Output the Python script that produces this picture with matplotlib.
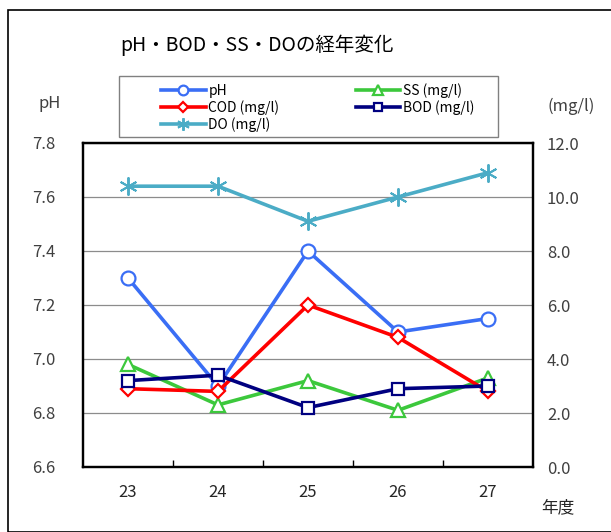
import matplotlib
matplotlib.use("Agg")
from matplotlib import pyplot as plt
from matplotlib.patches import Rectangle

plt.rcParams['font.family'] = ['Noto Sans CJK JP', 'DejaVu Sans']

years = [23, 24, 25, 26, 27]
ph = [7.30, 6.90, 7.40, 7.10, 7.15]
ss = [3.8, 2.3, 3.2, 2.1, 3.3]
cod = [2.9, 2.8, 6.0, 4.8, 2.8]
bod = [3.2, 3.4, 2.2, 2.9, 3.0]
do = [10.4, 10.4, 9.1, 10.0, 10.9]

ph_ticks = [6.6, 6.8, 7.0, 7.2, 7.4, 7.6, 7.8]
mg_ticks = [0, 2, 4, 6, 8, 10, 12]

W, H = 611, 532
fig = plt.figure(figsize=(W / 100, H / 100), dpi=100)

# outer chart border
fig.patches.append(Rectangle((8 / W, 0), 1.2, 1 - 10 / H, transform=fig.transFigure,
                             fill=False, edgecolor='black', linewidth=1.2))

ax = fig.add_axes([83 / W, 1 - 467 / H, 450 / W, 324 / H])
ax2 = ax.twinx()

ax.set_ylim(6.6, 7.8)
ax2.set_ylim(0, 12)
ax.set_xlim(22.5, 27.5)

ax.set_yticks(ph_ticks)
ax.set_yticklabels(['%.1f' % v for v in ph_ticks])
ax2.set_yticks(mg_ticks)
ax2.set_yticklabels(['%.1f' % v for v in mg_ticks])
ax.set_xticks(years)
ax.set_xticklabels([str(y) for y in years])
ax.set_xticks([23.5, 24.5, 25.5, 26.5], minor=True)

ax.grid(axis='y', color='#8c8c8c', linewidth=0.9)
ax.set_axisbelow(True)
ax.tick_params(axis='x', which='major', length=0, pad=12, labelsize=12, labelcolor='#262626')
ax.tick_params(axis='x', which='minor', length=5, direction='in', width=1)
ax.tick_params(axis='y', length=0, pad=20, labelsize=12, labelcolor='#404040')
ax2.tick_params(axis='y', length=0, pad=10, labelsize=12, labelcolor='#404040')
for a in (ax, ax2):
    for s in a.spines.values():
        s.set_linewidth(1.6)

lw = 2.6
l1, = ax.plot(years, ph, color='#3a6ef5', lw=lw, marker='o', ms=10,
              mfc='white', mec='#3a6ef5', mew=1.6, label='pH')
l2, = ax2.plot(years, ss, color='#3cc83c', lw=lw, marker='^', ms=10,
               mfc='white', mec='#3cc83c', mew=1.6, label='SS (mg/l)')
l3, = ax2.plot(years, cod, color='#ff0000', lw=lw, marker='D', ms=7,
               mfc='white', mec='#ff0000', mew=1.6, label='COD (mg/l)')
l4, = ax2.plot(years, bod, color='#000080', lw=lw, marker='s', ms=8,
               mfc='white', mec='#000080', mew=1.6, label='BOD (mg/l)')
l5, = ax2.plot(years, do, color='#4bacc6', lw=lw, marker=(6, 2, 0), ms=13,
               mec='#4bacc6', mew=1.4, label='DO (mg/l)')

# legend frame drawn by hand
fig.patches.append(Rectangle((119 / W, 1 - 137 / H), 379 / W, 61 / H,
                             transform=fig.transFigure, fill=False,
                             edgecolor='#808080', linewidth=1))
fig.legend([l1, l3, l5, l2, l4],
           ['pH', 'COD (mg/l)', 'DO (mg/l)', 'SS (mg/l)', 'BOD (mg/l)'],
           ncol=2, loc='upper left', bbox_to_anchor=(150 / W, 1 - 72 / H),
           frameon=False, fontsize=10, handlelength=3.2, handletextpad=0.2,
           columnspacing=5.5, labelspacing=0.15, borderpad=0.3, markerscale=0.7)

fig.text(257 / W, 1 - 45 / H, 'pH・BOD・SS・DOの経年変化', ha='center', va='center',
         fontsize=14)
fig.text(50 / W, 1 - 104 / H, 'pH', ha='center', va='center', fontsize=12, color='#404040')
fig.text(571 / W, 1 - 106 / H, '(mg/l)', ha='center', va='center', fontsize=12, color='#404040')
fig.text(558 / W, 1 - 508 / H, '年度', ha='center', va='center', fontsize=12, color='#262626')

fig.savefig('out.png', dpi=100)
